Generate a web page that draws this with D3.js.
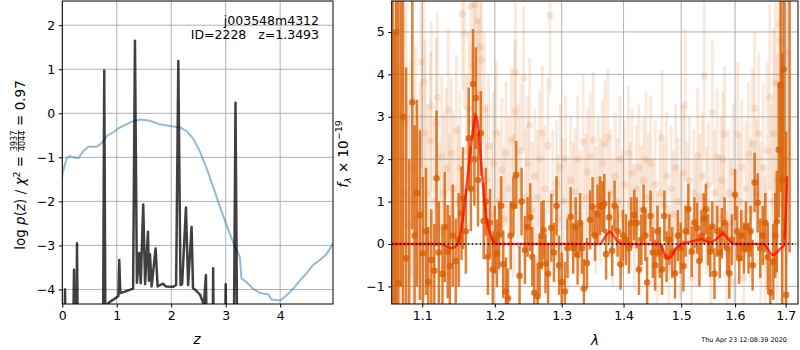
<!DOCTYPE html>
<html>
<head>
<meta charset="utf-8">
<script src="https://cdn.jsdelivr.net/npm/d3@7"></script>
<style>
body { margin: 0; background: #fff; }
text { font-family: "DejaVu Sans", sans-serif; }
</style>
</head>
<body>
<svg id="chart" width="800" height="350"></svg>
<script>
// left panel: redshift PDF
var pzZ   = [0.00,0.03,0.05,0.07,0.19,0.215,0.235,0.255,0.27,0.29,0.745,0.77,0.795,0.83,0.85,0.95,1.03,1.046,1.065,1.15,1.30,1.334,1.37,1.413,1.44,1.486,1.52,1.573,1.59,1.61,1.64,1.713,1.75,1.85,1.90,2.04,2.09,2.13,2.17,2.20,2.27,2.31,2.374,2.40,2.47,2.53,2.60,2.637,2.66,2.755,2.77,2.785,2.985,3.0,3.015,3.145,3.18,3.215,4.97];
var pzLog = [-6,-6,-4.0,-6,-6,-3.55,-6,-6,-2.95,-6,-6,0.97,-6,-4.35,-4.30,-4.22,-4.15,-3.33,-4.08,-4.05,-3.98,1.65,-3.85,-3.17,-3.86,-2.07,-3.88,-2.69,-3.8,-3.2,-3.93,-3.07,-3.93,-3.87,-3.93,-3.94,-3.9,1.19,-3.9,-3.88,-2.14,-3.9,-2.58,-3.97,-4.04,-4.12,-4.35,-3.67,-6,-6,-3.52,-6,-6,-3.88,-6,-6,0.24,-6,-6];

var chiZ   = [0.0,0.006,0.08,0.14,0.2,0.294,0.386,0.477,0.63,0.72,0.815,0.936,1.03,1.15,1.27,1.43,1.61,1.76,1.976,2.16,2.28,2.40,2.527,2.65,2.77,2.894,3.016,3.108,3.2,3.26,3.29,3.38,3.5,3.63,3.78,3.84,4.0,4.12,4.24,4.36,4.48,4.6,4.73,4.85,4.94,4.97];
var chiVal = [-1.45,-1.36,-1.02,-0.97,-1.0,-1.02,-0.86,-0.76,-0.76,-0.68,-0.52,-0.43,-0.34,-0.27,-0.19,-0.14,-0.17,-0.24,-0.29,-0.32,-0.40,-0.57,-0.87,-1.25,-1.67,-2.12,-2.54,-2.84,-3.11,-3.26,-3.75,-3.83,-3.98,-4.08,-4.11,-4.23,-4.25,-4.13,-3.98,-3.80,-3.64,-3.45,-3.33,-3.20,-3.02,-2.95];

var zTicks = [0, 1, 2, 3, 4];
var pzTicks = [-4, -3, -2, -1, 0, 1, 2];

// right panel: 1D spectrum, [lambda, flux, err]
var specDark = [
 [1.0615,6,8],[1.064,-3,8],[1.066,5,7],[1.0689,-0.93,7],[1.072,7,8],[1.075,3,5.5],[1.079,-0.34,4.5],[1.083,-3,5],[1.087,3.34,3.0],[1.090,0.2,2.6],[1.093,1.2,2.2],[1.097,0.68,2.0],[1.101,-0.22,1.8],
 [1.105,0.3,1.5],[1.108,-0.9,1.3],[1.112,-0.38,1.2],[1.116,-0.63,1.1],[1.119,1.55,1.6],[1.122,-0.2,1.2],[1.127,-0.71,1.1],[1.130,0.4,1.3],[1.134,-0.18,1.1],[1.137,-0.52,1.2],[1.141,0.2,1.2],[1.145,-0.4,1.0],[1.149,0.1,1.1],[1.153,0.72,1.1],[1.155,1.08,1.2],[1.159,0.3,1.0],
 [1.163,2.49,1.2],[1.166,1.3,1.0],[1.169,3.77,1.3],[1.171,2.0,1.1],[1.173,3.44,1.2],[1.176,1.51,1.1],[1.180,2.61,1.0],[1.184,0.54,0.9],[1.187,1.0,0.8],[1.190,-0.3,0.9],[1.193,0.5,0.8],[1.197,-0.6,0.9],[1.200,0.1,0.8],
 [1.203,-0.22,0.8],[1.206,0.21,0.8],[1.209,0.9,0.7],[1.212,-0.48,0.8],[1.216,-1.12,0.8],[1.219,-1.28,0.7],[1.223,0.2,0.8],[1.227,0.9,0.7],[1.231,1.63,0.8],[1.236,-0.75,0.7],[1.239,1.0,0.8],[1.244,-0.14,0.8],[1.248,0.4,0.7],[1.252,0.63,0.8],
 [1.255,-0.3,0.7],[1.258,-1.15,0.8],[1.263,-1.24,0.7],[1.266,-0.5,0.7],[1.269,0.2,0.8],[1.272,0.33,0.7],[1.275,-0.46,0.7],[1.279,-0.7,0.7],[1.284,0.38,0.8],[1.288,-0.2,0.7],[1.292,0.9,0.7],[1.296,-0.5,0.7],[1.300,-0.9,0.7],
 [1.305,-1.12,0.7],[1.309,-0.1,0.7],[1.314,0.64,0.7],[1.318,-0.1,0.6],[1.322,0.4,0.7],[1.325,-0.26,0.7],[1.329,0.5,0.7],[1.332,-0.1,0.6],[1.335,-1.05,0.7],[1.340,-0.45,0.6],[1.345,0.57,0.7],[1.349,0.88,0.7],[1.353,0.2,0.6],[1.357,0.7,0.7],[1.361,0.9,0.7],[1.365,0.88,0.6],[1.368,0.95,0.7],[1.371,-0.24,0.6],[1.376,0.63,0.6],[1.381,-0.16,0.6],[1.385,0.9,0.6],[1.390,0.3,0.6],[1.395,-0.48,0.6],[1.399,0.2,0.6],
 [1.404,0.1,0.6],[1.409,-0.1,0.6],[1.413,0.5,0.6],[1.418,0.68,0.6],[1.422,0.5,0.6],[1.426,-0.6,0.6],[1.430,0.1,0.6],[1.434,0.8,0.6],[1.437,0.2,0.6],[1.440,-0.91,0.6],[1.446,0.66,0.6],[1.450,-0.2,0.6],[1.454,-0.5,0.6],[1.458,0.3,0.6],[1.462,-0.2,0.6],[1.466,-0.6,0.6],[1.470,0.66,0.6],[1.474,-0.3,0.6],[1.479,0.1,0.6],[1.484,-0.2,0.6],[1.489,-0.69,0.6],[1.494,0.2,0.6],[1.499,-0.1,0.6],
 [1.504,-0.52,0.6],[1.508,0.3,0.6],[1.513,0.82,0.6],[1.519,-0.18,0.6],[1.524,0.5,0.6],[1.529,0.37,0.6],[1.533,-0.4,0.6],[1.537,0.2,0.6],[1.541,0.6,0.6],[1.545,0.82,0.6],[1.549,0.1,0.6],[1.553,-0.18,0.6],[1.557,0.41,0.6],[1.561,-0.7,0.6],[1.566,0.3,0.6],[1.571,-0.2,0.6],[1.575,0.25,0.6],[1.580,0.5,0.6],[1.585,-0.1,0.6],[1.589,-0.69,0.6],[1.594,0.1,0.6],[1.600,1.16,0.6],
 [1.604,0.3,0.6],[1.608,-0.34,0.6],[1.612,0.2,0.6],[1.617,-0.1,0.6],[1.621,0.4,0.6],[1.626,-0.1,0.6],[1.630,0.3,0.6],[1.634,-0.5,0.6],[1.638,1.45,0.7],[1.644,0.97,0.7],[1.649,-0.1,0.7],[1.654,0.2,0.7],[1.659,0.5,0.7],[1.664,-0.3,0.8],[1.669,-1.14,0.8],[1.675,-0.42,0.9],[1.679,0.2,1.0],[1.682,0.53,1.2],[1.686,2.22,1.6],[1.690,3.73,2.5],[1.693,1.5,3],[1.696,4.12,4],[1.701,-1.2,3.85],[1.708,6.5,6.7]
];

var specFaint = [
 [1.061,3,5],[1.064,1.5,4.5],[1.067,2.5,4],[1.070,0.8,3.5],[1.073,2.0,3.5],[1.076,1.2,3],[1.079,2.88,3],[1.082,0.5,2.8],[1.085,1.8,2.6],[1.088,1.0,2.5],[1.091,2.2,2.5],[1.094,0.6,2.4],[1.097,1.5,2.3],[1.099,4.29,2.5],[1.102,3.82,2.3],[1.104,2.62,2.2],[1.107,1.2,2.1],[1.111,2.43,2.1],[1.112,3.25,2.0],[1.116,1.0,2.0],[1.119,2.86,2.0],[1.120,3.46,2.0],[1.123,0.4,2.0],[1.126,2.06,1.9],[1.129,1.2,1.9],[1.132,1.78,1.9],[1.135,3.16,1.9],[1.137,0.8,1.8],[1.139,2.14,1.8],[1.142,1.3,1.8],[1.146,2.66,1.8],[1.149,1.0,1.8],[1.151,1.8,1.8],[1.154,5.42,1.8],[1.157,4.97,1.8],[1.160,2.2,1.8],[1.163,3.2,1.8],[1.166,5.6,1.8],[1.168,2.9,1.8],[1.170,4.2,1.8],[1.172,5.65,1.8],[1.175,5.27,1.8],[1.177,3.5,1.8],[1.179,4.65,1.8],[1.181,4.34,1.8],[1.185,3.18,1.8],[1.188,1.5,1.8],[1.191,2.3,1.7],[1.195,0.7,1.7],[1.198,1.9,1.7],
 [1.202,2.61,1.7],[1.206,1.0,1.7],[1.210,1.75,1.7],[1.213,0.6,1.7],[1.216,2.14,1.7],[1.220,1.3,1.7],[1.224,2.45,1.7],[1.227,0.9,1.7],[1.229,3.12,1.7],[1.230,4.04,1.7],[1.234,1.6,1.7],[1.238,2.2,1.6],[1.242,3.91,1.7],[1.245,1.1,1.6],[1.248,1.9,1.6],[1.251,2.8,1.6],[1.255,0.8,1.6],[1.259,1.6,1.6],[1.263,1.1,1.6],[1.266,2.0,1.6],[1.270,2.61,1.6],[1.274,1.3,1.5],[1.279,2.32,1.6],[1.282,5.39,1.8],[1.286,1.2,1.5],[1.292,1.43,1.5],[1.294,0.6,1.5],[1.298,1.8,1.5],
 [1.302,1.0,1.5],[1.306,2.0,1.5],[1.310,0.4,1.5],[1.314,1.5,1.5],[1.318,0.9,1.5],[1.321,1.23,1.5],[1.325,2.0,1.5],[1.329,0.7,1.5],[1.334,2.41,1.6],[1.338,1.1,1.5],[1.341,1.7,1.5],[1.345,2.06,1.5],[1.350,2.45,1.6],[1.354,0.8,1.5],[1.358,1.5,1.5],[1.362,1.0,1.5],[1.365,1.9,1.5],[1.369,2.36,1.5],[1.374,2.52,1.6],[1.378,1.2,1.5],[1.382,0.5,1.5],[1.386,1.6,1.5],[1.390,1.0,1.5],[1.394,2.0,1.5],[1.398,0.7,1.5],
 [1.402,1.4,1.5],[1.408,2.14,1.6],[1.411,0.9,1.5],[1.414,1.67,1.5],[1.418,0.4,1.5],[1.422,1.3,1.5],[1.426,1.8,1.5],[1.430,0.8,1.5],[1.434,1.5,1.5],[1.438,2.0,1.6],[1.442,1.1,1.5],[1.446,1.9,1.6],[1.450,0.5,1.5],[1.454,1.4,1.5],[1.458,-0.3,1.5],[1.462,1.2,1.5],[1.466,2.5,1.6],[1.470,0.9,1.5],[1.474,1.6,1.5],[1.478,-0.6,1.5],[1.482,1.3,1.5],[1.486,0.7,1.5],[1.490,1.8,1.5],[1.494,1.0,1.5],[1.499,0.2,1.5],
 [1.504,1.68,1.6],[1.507,3.28,1.8],[1.511,0.9,1.5],[1.515,1.5,1.5],[1.519,-0.8,1.5],[1.523,1.2,1.5],[1.527,0.5,1.5],[1.530,2.08,1.6],[1.534,1.1,1.5],[1.538,1.6,1.5],[1.542,3.96,1.9],[1.546,0.8,1.5],[1.550,1.4,1.5],[1.554,-0.5,1.5],[1.557,3.1,1.7],[1.561,1.2,1.5],[1.566,2.06,1.6],[1.570,0.6,1.5],[1.574,1.5,1.5],[1.577,2.0,1.6],[1.580,2.59,1.6],[1.584,-0.7,1.5],[1.588,1.2,1.5],[1.592,0.5,1.5],[1.596,1.7,1.6],[1.600,-0.9,1.5],
 [1.605,2.59,1.7],[1.609,1.0,1.6],[1.613,1.8,1.6],[1.617,-0.8,1.6],[1.621,1.3,1.6],[1.626,2.12,1.7],[1.630,0.8,1.7],[1.634,2.36,1.8],[1.638,3.2,1.8],[1.642,1.2,1.8],[1.646,2.61,1.9],[1.650,0.5,1.9],[1.655,1.8,2.0],[1.659,-0.4,2.0],[1.663,2.2,2.1],[1.668,3.46,2.2],[1.672,1.0,2.3],[1.676,2.6,2.5],[1.679,3.79,2.7],[1.683,1.5,3],[1.686,5.2,3.5],[1.689,4.81,4],[1.692,3.0,4.5],[1.695,6.5,5],[1.698,2.0,5],[1.702,4.5,5],[1.706,7,6]
];

var modelLam  = [1.062,1.126,1.133,1.139,1.144,1.148,1.154,1.160,1.166,1.170,1.173,1.176,1.180,1.184,1.188,1.193,1.197,1.200,1.361,1.370,1.377,1.384,1.390,1.397,1.462,1.468,1.472,1.477,1.483,1.490,1.498,1.510,1.525,1.537,1.545,1.553,1.565,1.577,1.585,1.592,1.600,1.655,1.662,1.668,1.675,1.682,1.690,1.696,1.700,1.703];
var modelFlux = [0,0,-0.06,-0.10,-0.07,0,0.5,1.35,2.3,2.8,3.04,2.8,2.0,1.2,0.6,0.25,0.08,0,0,0.18,0.29,0.18,0.06,0,0,-0.15,-0.28,-0.34,-0.28,-0.12,-0.02,0.03,0.08,0.11,0.07,0.03,0.12,0.25,0.15,0.04,0,0,-0.08,-0.2,-0.26,-0.2,-0.1,-0.05,0.6,1.6];

var lamTicks = [1.1, 1.2, 1.3, 1.4, 1.5, 1.6, 1.7];
var fluxTicks = [-1, 0, 1, 2, 3, 4, 5];

var svg = d3.select("#chart");
var fmt = function(d) { return String(d).replace("-", "\u2212"); };

function frame(g, x, y, xt, yt, xf) {
    var x0 = x.range()[0], x1 = x.range()[1], y0 = y.range()[0], y1 = y.range()[1];
    var grid = g.append("g").attr("stroke", "#b0b0b0").attr("stroke-width", 1);
    xt.forEach(function(t) {
        grid.append("line").attr("x1", x(t)).attr("x2", x(t)).attr("y1", y0).attr("y2", y1);
    });
    yt.forEach(function(t) {
        grid.append("line").attr("x1", x0).attr("x2", x1).attr("y1", y(t)).attr("y2", y(t));
    });
    g.append("g").attr("transform", "translate(0," + y0 + ")")
        .call(d3.axisBottom(x).tickValues(xt).tickFormat(xf).tickSize(3.5).tickPadding(3.5))
        .call(function(a) { a.select(".domain").remove(); a.selectAll("text").attr("font-size", 12.5).attr("fill", "#000").attr("font-family", "DejaVu Sans"); });
    g.append("g").attr("transform", "translate(" + x0 + ",0)")
        .call(d3.axisLeft(y).tickValues(yt).tickFormat(fmt).tickSize(3.5).tickPadding(3.5))
        .call(function(a) { a.select(".domain").remove(); a.selectAll("text").attr("font-size", 12.5).attr("fill", "#000").attr("font-family", "DejaVu Sans"); });
}
function border(g, x, y) {
    var x0 = x.range()[0], x1 = x.range()[1], y0 = y.range()[0], y1 = y.range()[1];
    g.append("rect").attr("x", x0).attr("y", y1).attr("width", x1 - x0).attr("height", y0 - y1)
        .attr("fill", "none").attr("stroke", "#000").attr("stroke-width", 1);
}
function clip(id, x, y) {
    svg.append("clipPath").attr("id", id).append("rect")
        .attr("x", x.range()[0]).attr("y", y.range()[1])
        .attr("width", x.range()[1] - x.range()[0]).attr("height", y.range()[0] - y.range()[1]);
}

// ---- left panel
var xz = d3.scaleLinear().domain([0, 4.97]).range([62.3, 333]);
var yp = d3.scaleLinear().domain([-4.33, 2.55]).range([304, 1]);
var gl = svg.append("g");
frame(gl, xz, yp, zTicks, pzTicks, fmt);
clip("clipL", xz, yp);
var dl = gl.append("g").attr("clip-path", "url(#clipL)");
dl.append("path")
    .attr("d", d3.line().x(function(d, i) { return xz(chiZ[i]); }).y(function(d) { return yp(d); })(chiVal))
    .attr("fill", "none").attr("stroke", "#1f77b4").attr("stroke-opacity", 0.5).attr("stroke-width", 2);
dl.append("path")
    .attr("d", d3.line().x(function(d, i) { return xz(pzZ[i]); }).y(function(d) { return yp(d); })(pzLog))
    .attr("fill", "none").attr("stroke", "#000").attr("stroke-opacity", 0.75).attr("stroke-width", 2.5)
    .attr("stroke-linejoin", "round");
border(gl, xz, yp);

gl.append("text").attr("x", 319).attr("y", 25).attr("text-anchor", "end").attr("font-size", 12.5).text("j003548m4312");
gl.append("text").attr("x", 319).attr("y", 39).attr("text-anchor", "end").attr("font-size", 12.5)
    .text("ID=2228\u00a0\u00a0\u00a0z=1.3493");
gl.append("text").attr("x", 197).attr("y", 344).attr("text-anchor", "middle").attr("font-size", 13.5)
    .attr("font-style", "italic").text("z");

// y label with fraction
var lab = svg.append("g").attr("transform", "translate(25,165) rotate(-90)");
var inner = lab.append("g");
var t1 = inner.append("text").attr("font-size", 13.5);
t1.append("tspan").text("log ");
t1.append("tspan").attr("font-style", "italic").text("p");
t1.append("tspan").text("(");
t1.append("tspan").attr("font-style", "italic").text("z");
t1.append("tspan").text(") / ");
t1.append("tspan").attr("font-style", "italic").text("\u03c7");
t1.append("tspan").attr("font-size", 9.5).attr("dy", -5.5).text("2");
t1.append("tspan").attr("dy", 5.5).text("\u00a0=\u00a0");
var w1 = t1.node().getComputedTextLength();
var num = inner.append("text").attr("font-size", 8).attr("y", -7.8).attr("text-anchor", "middle").text("3937");
var den = inner.append("text").attr("font-size", 8).attr("y", -0.3).attr("text-anchor", "middle").text("4044");
var wf = Math.max(num.node().getComputedTextLength(), den.node().getComputedTextLength()) + 1;
num.attr("x", w1 + wf / 2); den.attr("x", w1 + wf / 2);
inner.append("line").attr("x1", w1).attr("x2", w1 + wf).attr("y1", -6.5).attr("y2", -6.5)
    .attr("stroke", "#000").attr("stroke-width", 0.7);
var t2 = inner.append("text").attr("font-size", 13.5).attr("x", w1 + wf).text("\u00a0=\u00a00.97");
var wt = w1 + wf + t2.node().getComputedTextLength();
inner.attr("transform", "translate(" + (-wt / 2) + ",0)");

// ---- right panel
var xl = d3.scaleLog().domain([1.0605, 1.7253]).range([391.7, 798]);
var yf = d3.scaleLinear().domain([-1.415, 5.73]).range([304, 1]);
var gr = svg.append("g");
frame(gr, xl, yf, lamTicks, fluxTicks, function(d) { return d.toFixed(1); });
clip("clipR", xl, yf);
var dr = gr.append("g").attr("clip-path", "url(#clipR)");
var orange = "#d95f02";

function errbars(g, data, op, w, r) {
    g.selectAll("line.e").data(data).enter().append("line")
        .attr("x1", function(d) { return xl(d[0]); }).attr("x2", function(d) { return xl(d[0]); })
        .attr("y1", function(d) { return yf(d[1] - d[2]); }).attr("y2", function(d) { return yf(d[1] + d[2]); })
        .attr("stroke", orange).attr("stroke-opacity", op).attr("stroke-width", w);
    g.selectAll("circle").data(data).enter().append("circle")
        .attr("cx", function(d) { return xl(d[0]); }).attr("cy", function(d) { return yf(d[1]); })
        .attr("r", r).attr("fill", orange).attr("fill-opacity", op);
}
errbars(dr.append("g"), specFaint, 0.13, 3, 3.6);
errbars(dr.append("g"), specDark, 0.8, 2.5, 3.3);

dr.append("path")
    .attr("d", d3.line().x(function(d, i) { return xl(modelLam[i]); }).y(function(d) { return yf(d); }).curve(d3.curveMonotoneX)(modelFlux))
    .attr("fill", "none").attr("stroke", "#ff0000").attr("stroke-opacity", 0.7).attr("stroke-width", 2.5);
dr.append("line").attr("x1", xl(1.0605)).attr("x2", xl(1.7253) - 2).attr("y1", yf(0)).attr("y2", yf(0))
    .attr("stroke", "#000").attr("stroke-width", 1.5).attr("stroke-dasharray", "1.5,2.5");
border(gr, xl, yf);

gr.append("text").attr("x", 595).attr("y", 345).attr("text-anchor", "middle").attr("font-size", 13.5)
    .attr("font-style", "italic").text("\u03bb");

var rlab = svg.append("g").attr("transform", "translate(348,154) rotate(-90)");
var rt = rlab.append("text").attr("font-size", 13.5).attr("text-anchor", "middle");
rt.append("tspan").attr("font-style", "italic").text("f");
rt.append("tspan").attr("font-size", 9.5).attr("font-style", "italic").attr("dy", 3).text("\u03bb");
rt.append("tspan").attr("dy", -3).text("\u00a0\u00d7\u00a010");
rt.append("tspan").attr("font-size", 9.5).attr("dy", -6).text("\u221219");

svg.append("text").attr("x", 787).attr("y", 342).attr("text-anchor", "end").attr("font-size", 6.5)
    .text("Thu Apr 23 12:08:39 2020");
</script>
</body>
</html>
